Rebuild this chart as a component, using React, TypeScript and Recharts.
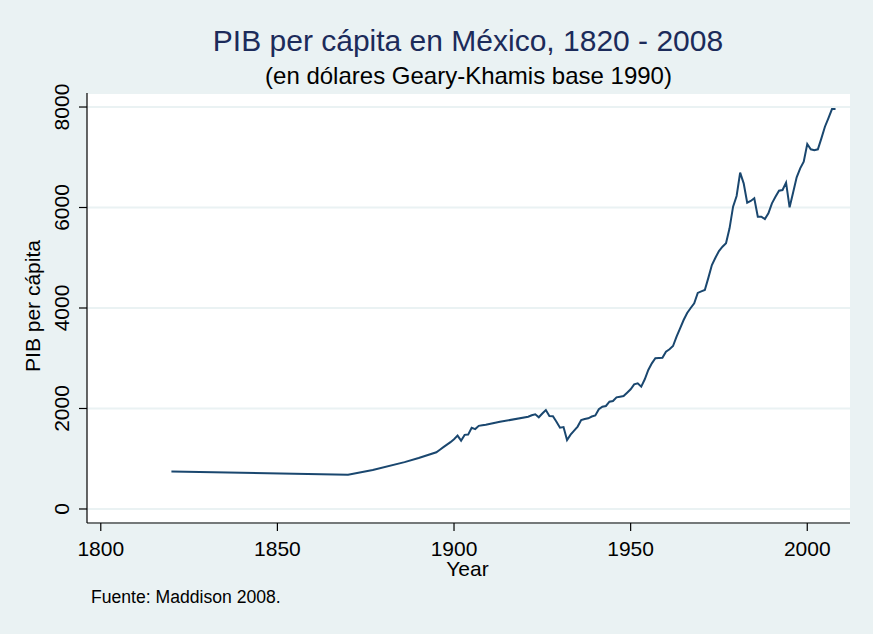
import React from 'react';
import { LineChart, Line, XAxis, YAxis, CartesianGrid, Label } from 'recharts';

const years = [
  1820, 1870, 1877, 1886, 1890, 1895, 1896, 1897, 1898, 1899,
  1900, 1901, 1902, 1903, 1904, 1905, 1906, 1907, 1908, 1909, 1910, 1911, 1913,
  1921, 1922, 1923, 1924, 1925, 1926, 1927, 1928, 1929, 1930,
  1931, 1932, 1933, 1934, 1935, 1936, 1937, 1938, 1939, 1940,
  1941, 1942, 1943, 1944, 1945, 1946, 1947, 1948, 1949, 1950,
  1951, 1952, 1953, 1954, 1955, 1956, 1957, 1958, 1959, 1960,
  1961, 1962, 1963, 1964, 1965, 1966, 1967, 1968, 1969, 1970,
  1971, 1972, 1973, 1974, 1975, 1976, 1977, 1978, 1979, 1980,
  1981, 1982, 1983, 1984, 1985, 1986, 1987, 1988, 1989, 1990,
  1991, 1992, 1993, 1994, 1995, 1996, 1997, 1998, 1999, 2000,
  2001, 2002, 2003, 2004, 2005, 2006, 2007, 2008,
];

const gdpPerCapita = [
  745, 680, 776, 932, 1015, 1128, 1180, 1230, 1280, 1330,
  1390, 1460, 1360, 1475, 1480, 1615, 1590, 1655, 1665, 1675, 1690, 1705, 1735,
  1835, 1865, 1885, 1825, 1900, 1970, 1851, 1845, 1735, 1618,
  1630, 1373, 1480, 1560, 1640, 1770, 1790, 1805, 1840, 1860,
  1984, 2036, 2050, 2136, 2149, 2222, 2235, 2249, 2315, 2382,
  2481, 2502, 2434, 2581, 2766, 2899, 2999, 3005, 3011, 3130,
  3178, 3244, 3429, 3596, 3761, 3900, 4000, 4094, 4300, 4330,
  4358, 4600, 4856, 5000, 5134, 5220, 5287, 5586, 6016, 6229,
  6693, 6481, 6096, 6130, 6183, 5817, 5817, 5771, 5884, 6083,
  6215, 6335, 6348, 6494, 6004, 6300, 6600, 6780, 6912, 7264,
  7158, 7140, 7158, 7377, 7608, 7780, 7960, 7960,
];

const xTicks = [1800, 1850, 1900, 1950, 2000];
const yTicks = [0, 2000, 4000, 6000, 8000];

const data = years.map((year, i) => ({ year, pib: gdpPerCapita[i] }));

const FONT = "'Liberation Sans', Arial, Helvetica, sans-serif";
const BG = '#eaf2f3';

// y tick labels are drawn rotated, like Stata does
const YTick = (props: any) => {
  const { x, y, payload } = props;
  return (
    <text
      x={0}
      y={0}
      transform={`translate(${x - 1},${y}) rotate(-90)`}
      textAnchor="middle"
      fontSize={21}
      fontFamily={FONT}
      fill="#000"
    >
      {payload.value}
    </text>
  );
};

const YTitle = (props: any) => {
  const { viewBox } = props;
  const cy = viewBox.y + viewBox.height / 2 - 2;
  return (
    <text
      x={0}
      y={0}
      transform={`translate(40,${cy}) rotate(-90)`}
      textAnchor="middle"
      fontSize={21}
      fontFamily={FONT}
      fill="#000"
    >
      PIB per cápita
    </text>
  );
};

const XTitle = (props: any) => {
  const { viewBox } = props;
  return (
    <text
      x={viewBox.x + viewBox.width / 2 - 1}
      y={576}
      textAnchor="middle"
      fontSize={21}
      fontFamily={FONT}
      fill="#000"
    >
      Year
    </text>
  );
};

export default function App() {
  return (
    <div style={{ position: 'absolute', left: 0, top: 0, width: 873, height: 634, background: BG, fontFamily: FONT }}>
      <LineChart width={873} height={634} data={data} margin={{ top: 93, right: 23, bottom: 57, left: 27 }}>
        <CartesianGrid vertical={false} fill="#ffffff" stroke={BG} strokeWidth={2} />
        <XAxis
          dataKey="year"
          type="number"
          domain={[1796.1, 2012.1]}
          ticks={xTicks}
          allowDataOverflow
          height={54}
          tickSize={8}
          tickMargin={10}
          tick={{ fontSize: 21, fill: '#000', fontFamily: FONT }}
          axisLine={{ stroke: '#000', strokeWidth: 1.2 }}
          tickLine={{ stroke: '#000', strokeWidth: 1.2 }}
        >
          <Label content={<XTitle />} />
        </XAxis>
        <YAxis
          type="number"
          domain={[-279, 8279]}
          ticks={yTicks}
          allowDataOverflow
          width={60}
          tickSize={8}
          tickMargin={9}
          tick={<YTick />}
          axisLine={{ stroke: '#000', strokeWidth: 1.2 }}
          tickLine={{ stroke: '#000', strokeWidth: 1.2 }}
        >
          <Label content={<YTitle />} />
        </YAxis>
        <Line
          type="linear"
          dataKey="pib"
          stroke="#1a476f"
          strokeWidth={2}
          dot={false}
          isAnimationActive={false}
        />
      </LineChart>
      <svg width={873} height={634} style={{ position: 'absolute', left: 0, top: 0, pointerEvents: 'none' }}>
        <text x={468} y={51} textAnchor="middle" fontSize={30} fontFamily={FONT} fill="#1c2b5a">
          PIB per cápita en México, 1820 - 2008
        </text>
        <text x={468.5} y={84} textAnchor="middle" fontSize={24} fontFamily={FONT} fill="#000">
          (en dólares Geary-Khamis base 1990)
        </text>
        <text x={91} y={603} fontSize={17.6} fontFamily={FONT} fill="#000">
          Fuente: Maddison 2008.
        </text>
      </svg>
    </div>
  );
}
